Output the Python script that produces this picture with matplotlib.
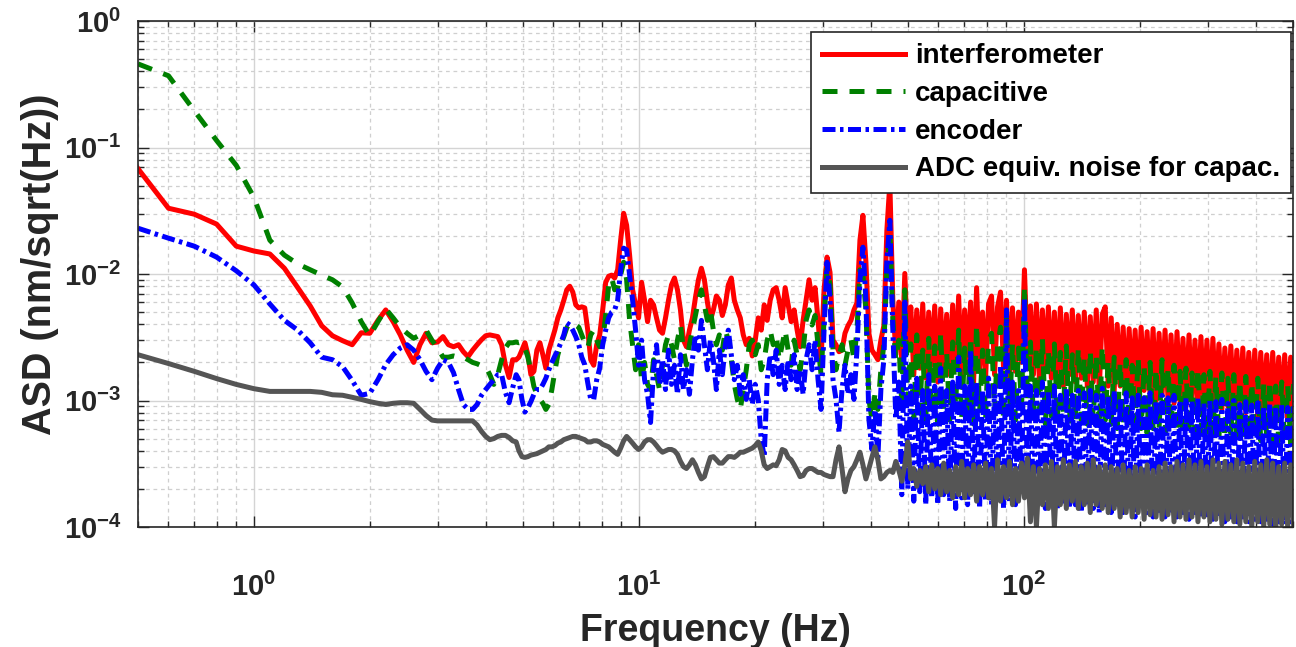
import numpy as np
import matplotlib.pyplot as plt

plt.rcParams['font.family'] = ['Liberation Sans', 'DejaVu Sans']
plt.rcParams['font.weight'] = 'bold'
plt.rcParams['mathtext.fontset'] = 'custom'
plt.rcParams['mathtext.rm'] = 'Liberation Sans'
plt.rcParams['mathtext.bf'] = 'Liberation Sans:bold'
plt.rcParams['mathtext.default'] = 'bf'

# ASD values are in units of 1e-4 nm/sqrt(Hz)
# low band: 0.1 Hz bins from 0.5 Hz to 4.8 Hz
freq_low = np.arange(5, 49) / 10
# high band: log spaced bins, 4.88 Hz .. 502 Hz
F_START, F_STOP = 4.88, 502.0

interf_low = [680, 331, 297, 248, 166, 152, 144, 111, 78, 56,
              39, 32.5, 29.7, 27.6, 34.3, 34, 43, 52, 42, 33,
              25, 20, 27.6, 34, 28.6, 29, 32, 27.6, 26.6, 27.6,
              24.3, 22.2, 25, 27.6, 30.2, 32.5, 33, 32.5, 32, 27.6,
              19.2, 15.2, 21, 21]
interf_high = [22, 25, 28.6, 23, 16, 17, 25, 28.6, 23, 18,
               25, 30, 36, 45, 52, 62, 75, 80, 72, 57,
               54, 55, 54, 36, 21, 19, 27.6, 33, 52, 86,
               96, 98, 93, 108, 185, 302, 243, 141, 75,
               57, 45, 86, 62, 42, 62, 57, 45, 36, 34,
               45, 62, 82, 93, 75, 52, 30, 26.6, 36, 45,
               65, 90, 111, 90, 60, 43, 52, 67, 62, 47,
               57, 82, 93, 62, 52, 45, 33, 27.6, 31, 22.5,
               30, 45, 36, 57, 43, 62, 75, 78,
               62, 45, 78, 57, 42, 52, 36, 26.6, 43, 62,
               90, 62, 78, 43, 21, 75, 136, 103, 30, 27.6,
               24.3, 25, 34, 39, 43, 52, 59, 185, 291, 124,
               34, 25, 23, 21, 30, 39, 222, 521, 62, 23,
               60, 20, 101, 25, 55, 16, 52, 18, 58, 15,
               50, 19, 56, 14, 53, 17, 48, 16, 57, 18,
               67, 15, 52, 20, 60, 14, 78, 17, 50, 15,
               58, 67, 16, 55, 72, 18, 62, 15, 54, 17,
               50, 20, 108, 22, 56, 16, 58, 14, 52, 17,
               55, 15, 50, 16, 54, 13, 48, 16, 52, 14,
               47, 15, 50, 13, 46, 14, 52, 12, 48, 55,
               13, 45, 12, 40, 13, 38, 11, 37, 12, 36,
               10, 38, 12, 35, 11, 37, 10, 34, 11, 36,
               10, 33, 9.5, 35, 10, 31, 9, 33, 10, 30,
               9, 32, 9.5, 30, 8.5, 31, 9, 28, 8.5, 26,
               9, 27, 8, 25, 8.5, 26, 8, 24, 8.5, 25,
               7.5, 24, 8, 23, 7.5, 24, 8, 22, 7.5, 23,
               7, 22, 7.5]

capac_low = [4580, 3690, 1955, 1136, 722, 404, 185, 141, 120, 108,
             98, 90, 79, 59, 42, 32.5, 42, 53, 45, 38,
             34, 31, 33, 36, 30, 26, 22, 22, 22.5, 22,
             22, 21, 20, 19.5, 18.8, 18.5, 16, 13.4, 16, 21,
             26, 28.6, 28.6, 29]
capac_high = [28.6, 29, 26, 22, 17, 12.9, 11.2, 10.2, 9.5, 8.5,
              9.3, 12.2, 17, 23, 27.6, 32, 37.6, 41, 41, 39.5,
              38, 33, 28.6, 26, 33, 36, 30, 26.6, 30, 47,
              82, 93, 75, 78, 98, 124, 90, 43, 27.6,
              17.5, 27.6, 14.6, 20, 13.4, 12.2, 21, 16, 12.2, 19,
              27.6, 33, 27.6, 21, 30, 39.5, 25, 19, 27.6, 36,
              47, 62, 75, 57, 43, 52, 36, 27.6, 33, 25,
              36, 30, 21, 13.4, 10.2, 8.5, 12.2, 17.5, 27.6, 30,
              23, 27.6, 17.5, 21, 30, 36, 27.6, 33, 21, 27.6,
              36, 25, 19, 30, 23, 17.5, 25, 43, 52, 39.5,
              47, 27.6, 16, 43, 111, 82, 25, 17.5, 23, 27.6,
              19, 25, 30, 21, 36, 108, 98, 52, 10.2, 7.1,
              11.2, 8.5, 17.5, 27.6, 108, 222, 43, 21,
              30, 9, 75, 10, 28, 7, 33, 8, 25, 7,
              31, 8, 27, 6.5, 35, 8, 24, 7, 29, 9,
              36, 7, 26, 8, 32, 6.5, 40, 8, 25, 7,
              30, 34, 8, 27, 38, 7, 45, 8, 28, 7,
              26, 9, 80, 10, 29, 7, 27, 8, 31, 6.5,
              25, 7.5, 28, 7, 24, 8, 27, 6.5, 23, 7,
              26, 7, 22, 6.5, 25, 7, 23, 6, 27, 7,
              21, 6.5, 22, 6, 20, 6.5, 21, 6, 19, 6.5,
              22, 6, 19, 5.5, 20, 6, 18, 6, 21, 5.5,
              18, 6, 19, 5.5, 17, 6, 18, 5.5, 16.5, 5.5,
              18, 5.5, 16, 5, 17, 5.5, 15.5, 5, 16.5, 5,
              15, 5.5, 16, 5, 14.5, 5, 15.5, 4.8, 14, 5,
              15, 4.8, 13.5, 5, 14.5, 4.5, 13, 4.8, 14, 4.5,
              13, 4.5, 13.5]

encoder_low = [230, 192, 166, 136, 106, 82, 58, 43, 36, 28.6,
               22, 21, 18.5, 14.4, 11, 11.4, 14.6, 19.2, 23, 26,
               27.6, 25, 21, 17, 14.6, 18, 21, 20, 16.6, 12.2,
               9.3, 8.5, 8.5, 9.3, 11, 12.2, 13.4, 14.6, 16, 16,
               11.6, 9.6, 12.6, 16]
encoder_high = [14.6, 10.2, 8.1, 8.8, 9.8, 11.2, 12.2, 12.2, 13.4, 15,
                17.5, 20, 22.5, 25, 28.6, 33, 41, 39.5, 36, 32,
                27.6, 22, 19.2, 13.8, 10.2, 10.2, 14.6, 18, 27.6, 36,
                45, 50, 52, 62, 108, 160, 155, 98, 62,
                36, 19, 30, 14.6, 11.2, 6.7, 17.5, 27.6, 13.4, 21,
                12.2, 25, 13.4, 19, 11.2, 23, 12.2, 17.5, 11.2, 21,
                33, 25, 43, 27.6, 17.5, 30, 21, 12.2, 25, 16,
                27.6, 36, 23, 14.6, 19, 11.2, 16, 10.2, 14.6, 9.3,
                13.4, 10.2, 4.9, 3.6, 14.6, 23, 16, 25, 13.4, 19,
                12.2, 21, 14.6, 23, 12.2, 17.5, 11.2, 21, 27.6, 17.5,
                30, 14.6, 8.5, 36, 124, 62, 14.6, 10.2, 5.6, 12.2,
                19, 11.2, 16, 10.2, 25, 90, 163, 62, 7.1, 4.1,
                8.5, 3.55, 12.2, 21, 128, 266, 36, 7.1,
                14, 1.8, 60, 2.0, 13, 1.6, 15, 1.9, 12, 1.5,
                16, 1.7, 13, 1.5, 18, 1.8, 12, 1.6, 14, 1.4,
                22, 1.7, 13, 1.5, 25, 1.8, 14, 1.4, 12, 1.6,
                15, 1.5, 13, 1.7, 19, 1.4, 52, 1.6, 14, 1.5,
                12, 1.8, 65, 2.0, 13, 1.5, 12, 1.6, 14, 1.4,
                12, 1.5, 13, 1.4, 11, 1.6, 12.5, 1.4, 11, 1.5,
                12, 1.3, 11.5, 1.5, 12, 1.4, 11, 1.3, 12.5, 1.5,
                11, 1.3, 12, 1.4, 10.5, 1.3, 11.5, 1.4, 10.5, 1.2,
                11, 1.4, 10.5, 1.3, 11.5, 1.2, 10, 1.35, 11, 1.2,
                10.5, 1.3, 11, 1.2, 10, 1.3, 10.5, 1.15, 10, 1.3,
                10.5, 1.2, 9.5, 1.25, 10, 1.15, 9.8, 1.2, 10.2, 1.1,
                9.5, 1.2, 10, 1.1, 9.3, 1.2, 9.8, 1.1, 9.2, 1.15,
                9.6, 1.1, 9, 1.15, 9.4, 1.05, 9, 1.1, 9.2, 1.05,
                8.8, 1.1, 9]

adc_low = [23, 19.6, 17, 14.9, 13.4, 12.4, 11.8, 11.8, 11.8, 11.8,
           11.6, 11.1, 11, 10.6, 10.2, 9.8, 9.5, 9.3, 9.5, 9.6,
           9.6, 9.5, 8.5, 7.6, 7, 6.9, 6.9, 6.9, 6.9, 6.9,
           6.9, 6.9, 6.9, 6.4, 5.7, 5.2, 4.9, 5, 5.2, 5.3,
           5.3, 5.1, 4.8, 4.7]
adc_high = [4.0, 3.6, 3.55, 3.6, 3.7, 3.75, 3.8, 3.9, 4.0, 4.1,
            4.3, 4.3, 4.4, 4.6, 4.7, 4.9, 5.0, 5.1, 5.2, 5.2,
            5.1, 5.0, 4.9, 4.7, 4.7, 4.8, 4.8, 4.7, 4.5, 4.4,
            4.3, 4.1, 3.9, 3.75, 4.2, 4.8, 5.2, 4.9, 4.6, 4.3,
            4.1, 4.3, 4.7, 4.9, 4.9, 4.7, 4.4, 4.1, 3.9, 4.0,
            4.1, 4.1, 4.0, 3.75, 3.3, 3.0, 2.9, 3.1, 3.4, 3.1,
            2.7, 2.4, 2.5, 3.0, 3.55, 3.6, 3.4, 3.2, 3.2, 3.4,
            3.6, 3.6, 3.55, 3.7, 3.9, 3.9, 4.0, 4.1, 4.2, 4.4,
            4.7, 4.0, 3.1, 2.9, 3.0, 3.1, 3.05, 3.4, 4.1, 4.0,
            3.55, 3.4, 3.1, 2.8, 2.5, 2.55, 2.8, 2.9, 2.9, 2.8,
            2.7, 2.7, 2.6, 2.55, 2.5, 2.5, 3.4, 4.3, 2.9, 1.9,
            2.4, 2.8, 3.0, 3.4, 3.9, 3.1, 2.4, 2.9, 3.55, 4.3,
            3.4, 2.4, 2.5, 2.7, 2.8, 2.7, 3.3,
            2.8, 2.3, 3.1, 4.7, 2.4, 2.9, 2.1, 2.8, 2.2, 3.0,
            1.9, 3.1, 2.0, 2.9, 1.8, 3.2, 1.9, 2.8, 1.7, 3.0,
            1.8, 3.3, 1.7, 2.9, 1.8, 3.1, 1.6, 3.0, 1.8, 3.2,
            1.7, 2.9, 1.0, 3.4, 1.6, 3.0, 1.7, 3.3, 1.5, 2.9,
            1.6, 3.2, 1.7, 3.5, 1.1, 3.0, 1.0, 2.9, 1.5, 3.1,
            1.4, 3.3, 1.0, 3.0, 1.5, 3.4, 1.4, 3.1, 1.6, 3.3,
            1.4, 3.0, 1.5, 3.2, 1.3, 3.4, 1.5, 3.0, 1.4, 3.1,
            1.3, 3.0, 1.4, 2.9, 1.2, 3.1, 1.3, 2.8, 1.2, 3.0,
            1.3, 2.9, 1.15, 3.1, 1.25, 2.8, 1.2, 3.0, 1.15, 3.2,
            1.25, 3.0, 1.1, 3.3, 1.2, 3.1, 1.15, 3.4, 1.2, 3.1,
            1.1, 3.3, 1.2, 3.0, 1.1, 3.4, 1.15, 3.2, 1.05, 3.3,
            1.15, 3.1, 1.1, 3.4, 1.05, 3.2, 1.1, 3.0, 1.0, 3.3,
            1.1, 3.1, 1.0, 3.4, 1.05, 3.2, 0.95, 3.0, 1.05, 3.2,
            1.0, 3.1, 1.0]


def spectrum(low, high):
    f = np.concatenate([freq_low, np.geomspace(F_START, F_STOP, len(high))])
    return f, np.array(low + high) * 1e-4


fig = plt.figure(figsize=(12.96, 6.47), dpi=100)
ax = fig.add_axes([138 / 1296, 1 - 527 / 647, 1155 / 1296, 506 / 647])

lw = 3.6
ax.plot(*spectrum(interf_low, interf_high), color='#ff0000', lw=lw,
        label='interferometer')
ax.plot(*spectrum(capac_low, capac_high), color='#008000', lw=lw,
        dashes=(3.0, 2.4), label='capacitive')
ax.plot(*spectrum(encoder_low, encoder_high), color='#0000ff', lw=lw,
        dashes=(2.6, 0.9, 0.7, 0.9), label='encoder')
ax.plot(*spectrum(adc_low, adc_high), color='#555555', lw=lw,
        label='ADC equiv. noise for capac.')

ax.set_xscale('log')
ax.set_yscale('log')
ax.set_xlim(0.5, 500)
ax.set_ylim(1e-4, 1)

ax.set_xticks([1, 10, 100])
ax.set_xticklabels([r'$10^{0}$', r'$10^{1}$', r'$10^{2}$'])
ax.set_yticks([1e-4, 1e-3, 1e-2, 1e-1, 1])
ax.set_yticklabels([r'$10^{-4}$', r'$10^{-3}$', r'$10^{-2}$',
                    r'$10^{-1}$', r'$10^{0}$'])

ax.set_axisbelow(True)
ax.grid(True, which='major', color='#d4d4d4', lw=1.0, ls='-')
ax.grid(True, which='minor', color='#cfcfcf', lw=0.9, ls=(0, (3, 3)))

ax.tick_params(which='both', direction='in', top=True, right=True,
               colors='#262626', width=1.0)
ax.tick_params(which='major', length=8, labelsize=21)
ax.tick_params(which='minor', length=4)
ax.tick_params(axis='x', which='major', pad=33)
ax.tick_params(axis='y', which='major', pad=12)
for s in ax.spines.values():
    s.set_color('#262626')
    s.set_linewidth(1.2)

ax.set_xlabel('Frequency (Hz)', fontsize=27, fontweight='bold',
              color='#262626')
ax.xaxis.set_label_coords(0.5, -0.17)
ax.set_ylabel('ASD (nm/sqrt(Hz))', fontsize=28.5, fontweight='bold',
              color='#262626', va='center')
ax.yaxis.set_label_coords(-0.085, 0.52)

leg = ax.legend(loc='upper right', bbox_to_anchor=(0.9985, 0.978),
                borderaxespad=0, fancybox=False, framealpha=1,
                edgecolor='#262626', fontsize=20, handlelength=3.0,
                handletextpad=0.35, labelspacing=0.42, borderpad=0.4)
leg.get_frame().set_linewidth(1.2)

fig.savefig('out.png', dpi=100)
